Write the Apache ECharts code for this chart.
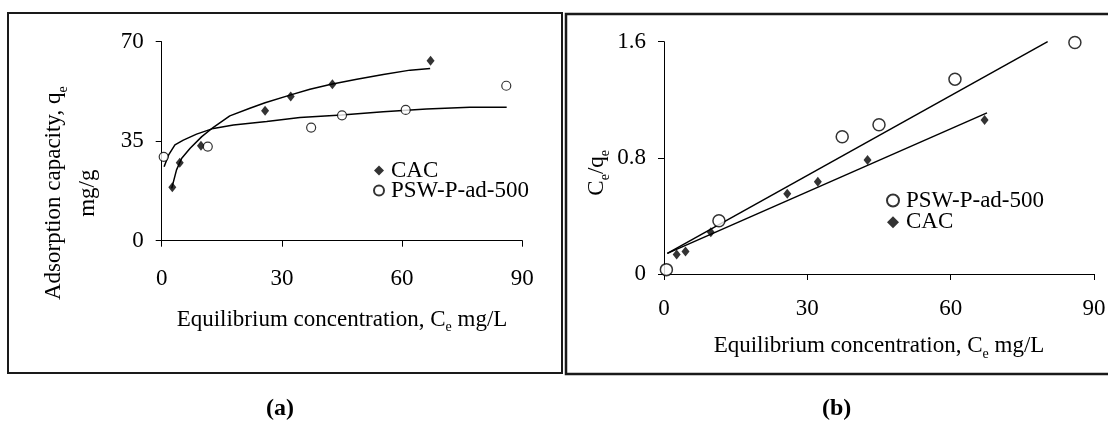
<!DOCTYPE html>
<html>
<head>
<meta charset="utf-8">
<script src="https://cdn.jsdelivr.net/npm/echarts@6/dist/echarts.min.js"></script>
<style>
html,body{margin:0;padding:0;background:#fff;}
#chart{width:1108px;height:425px;}
</style>
</head>
<body>
<div id="chart"></div>
<script>
// ---- Data ----
// Panel (a): experimental isotherm points
const cacCe = [2.65, 4.5, 9.8, 25.8, 32.2, 42.6, 67.1];
const cacQe = [18.8, 27.4, 33.4, 45.7, 50.7, 55.0, 63.3];
const pswCe = [0.5, 11.5, 37.3, 45.0, 60.9, 86.0];
const pswQe = [29.5, 33.1, 39.8, 44.1, 46.0, 54.5];
// Panel (a): fitted curves
const cacFitCe = [2.5, 3.7, 5.0, 7.1, 10.0, 12.9, 17.0, 22.0, 25.8, 32.0, 37.0, 42.3, 48.7, 55.3, 62.0, 67.0];
const cacFitQe = [18.4, 24.9, 29.0, 32.5, 36.6, 39.9, 43.9, 46.6, 48.5, 51.2, 53.3, 55.0, 56.8, 58.5, 60.0, 60.6];
const pswFitCe = [0.6, 1.7, 3.3, 5.4, 8.7, 12.9, 17.9, 26.2, 34.5, 44.9, 55.3, 66.1, 76.9, 86.1];
const pswFitQe = [26.0, 30.1, 33.7, 35.4, 37.5, 39.5, 40.7, 41.9, 43.3, 44.2, 45.4, 46.3, 46.9, 46.9];
// Panel (b): Ce/qe linearised points
const cacRatio = [0.135, 0.155, 0.287, 0.553, 0.635, 0.785, 1.06];
const pswRatio = [0.03, 0.367, 0.945, 1.028, 1.342, 1.595];
// Panel (b): fitted straight lines (end points)
const pswLineCe = [0.7, 80.3];
const pswLineRatio = [0.142, 1.6];
const cacLineCe = [0.7, 67.6];
const cacLineRatio = [0.142, 1.11];
// Axis ticks
const xTicks = [0, 30, 60, 90];
const yTicksA = [0, 35, 70];
const yTicksB = [0, 0.8, 1.6];

const zip = (a, b) => a.map((v, i) => [v, b[i]]);
const FONT = '"Liberation Serif","Times New Roman",serif';
const FS = 23;

const subRich = {
  sub: { fontSize: 14, fontFamily: FONT, color: '#000', verticalAlign: 'bottom', lineHeight: 30 }
};

function xAxisCfg(gridIndex, nameGap, labelMargin) {
  return {
    gridIndex, type: 'value', min: xTicks[0], max: xTicks[xTicks.length - 1], interval: 30,
    name: 'Equilibrium concentration, C{sub|e} mg/L',
    nameLocation: 'middle', nameGap: nameGap,
    nameTextStyle: { fontFamily: FONT, fontSize: FS, color: '#000', rich: subRich },
    axisLine: { show: true, onZero: false, lineStyle: { color: '#000', width: 1 } },
    axisTick: { show: true, inside: false, length: 6, lineStyle: { color: '#000' } },
    axisLabel: { fontFamily: FONT, fontSize: FS, color: '#000', margin: labelMargin },
    splitLine: { show: false }
  };
}

const option = {
  backgroundColor: '#fff',
  animation: false,
  grid: [
    { left: 161.7, top: 41.7, width: 360.6, height: 199, outerBoundsMode: 'none', containLabel: false },
    { left: 664, top: 41.7, width: 430, height: 232.3, outerBoundsMode: 'none', containLabel: false }
  ],
  xAxis: [ xAxisCfg(0, 64, 27), xAxisCfg(1, 57, 23) ],
  yAxis: [
    {
      gridIndex: 0, type: 'value', min: yTicksA[0], max: yTicksA[2], interval: 35,
      name: 'Adsorption capacity, q{sub|e}\nmg/g',
      nameLocation: 'middle', nameGap: 57, nameRotate: 90,
      nameTextStyle: { fontFamily: FONT, fontSize: FS, color: '#000', lineHeight: 34, rich: subRich,
        padding: [0, 104, 0, 0] },
      axisLine: { show: true, onZero: false, lineStyle: { color: '#000', width: 1 } },
      axisTick: { show: true, length: 6, lineStyle: { color: '#000' } },
      axisLabel: { fontFamily: FONT, fontSize: FS, color: '#000', margin: 18 },
      splitLine: { show: false }
    },
    {
      gridIndex: 1, type: 'value', min: yTicksB[0], max: yTicksB[2], interval: 0.8,
      name: 'C{sub|e}/q{sub|e}',
      nameLocation: 'middle', nameGap: 52, nameRotate: 90,
      nameTextStyle: { fontFamily: FONT, fontSize: FS, color: '#000', rich: subRich,
        padding: [0, 30, 0, 0] },
      axisLine: { show: true, onZero: false, lineStyle: { color: '#000', width: 1 } },
      axisTick: { show: true, length: 6, lineStyle: { color: '#000' } },
      axisLabel: { fontFamily: FONT, fontSize: FS, color: '#000', margin: 18,
        formatter: v => (v === 0 ? '0' : v.toFixed(1)) },
      splitLine: { show: false }
    }
  ],
  legend: [
    {
      orient: 'vertical', left: 368, top: 154, itemGap: -3, itemWidth: 10, itemHeight: 10,
      data: ['CAC', 'PSW-P-ad-500'],
      textStyle: { fontFamily: FONT, fontSize: FS, color: '#000', padding: [0, 0, 0, 2] },
      selectedMode: false
    },
    {
      orient: 'vertical', left: 881, top: 184, itemGap: -1.3, itemWidth: 12, itemHeight: 12,
      data: ['PSW-P-ad-500 ', 'CAC '],
      textStyle: { fontFamily: FONT, fontSize: FS, color: '#000', padding: [0, 0, 0, 2] },
      selectedMode: false
    }
  ],
  series: [
    { name: 'CAC fit', type: 'line', xAxisIndex: 0, yAxisIndex: 0, data: zip(cacFitCe, cacFitQe),
      symbol: 'none', lineStyle: { color: '#000', width: 1.5 }, z: 2 },
    { name: 'PSW fit', type: 'line', xAxisIndex: 0, yAxisIndex: 0, data: zip(pswFitCe, pswFitQe),
      symbol: 'none', lineStyle: { color: '#000', width: 1.5 }, z: 2 },
    { name: 'CAC', type: 'scatter', xAxisIndex: 0, yAxisIndex: 0, data: zip(cacCe, cacQe),
      symbol: 'diamond', symbolSize: [8, 10], itemStyle: { color: '#000' }, z: 3 },
    { name: 'PSW-P-ad-500', type: 'scatter', xAxisIndex: 0, yAxisIndex: 0, data: zip(pswCe, pswQe),
      symbol: 'circle', symbolSize: 9, itemStyle: { color: '#fff', borderColor: '#000', borderWidth: 1.2 }, z: 3 },

    { name: 'PSW line', type: 'line', xAxisIndex: 1, yAxisIndex: 1, data: zip(pswLineCe, pswLineRatio),
      symbol: 'none', lineStyle: { color: '#000', width: 1.5 }, z: 2 },
    { name: 'CAC line', type: 'line', xAxisIndex: 1, yAxisIndex: 1, data: zip(cacLineCe, cacLineRatio),
      symbol: 'none', lineStyle: { color: '#000', width: 1.5 }, z: 2 },
    { name: 'PSW-P-ad-500 ', type: 'scatter', xAxisIndex: 1, yAxisIndex: 1, data: zip(pswCe, pswRatio),
      symbol: 'circle', symbolSize: 12, itemStyle: { color: '#fff', borderColor: '#000', borderWidth: 1.5 }, z: 3 },
    { name: 'CAC ', type: 'scatter', xAxisIndex: 1, yAxisIndex: 1, data: zip(cacCe, cacRatio),
      symbol: 'diamond', symbolSize: [8, 10], itemStyle: { color: '#000' }, z: 3 }
  ],
  graphic: [
    { type: 'rect', shape: { x: 8, y: 13, width: 554, height: 360 },
      style: { fill: 'none', stroke: '#1a1a1a', lineWidth: 2 }, silent: true },
    { type: 'rect', shape: { x: 566, y: 14, width: 545, height: 360 },
      style: { fill: 'none', stroke: '#1a1a1a', lineWidth: 2.5 }, silent: true },
    { type: 'text', left: 266, top: 397,
      style: { text: '(a)', font: 'bold 24px ' + FONT, fill: '#000' } },
    { type: 'text', left: 822, top: 397,
      style: { text: '(b)', font: 'bold 24px ' + FONT, fill: '#000' } }
  ]
};

const chart = echarts.init(document.getElementById('chart'), null, { renderer: 'canvas' });
chart.setOption(option);
</script>
</body>
</html>
